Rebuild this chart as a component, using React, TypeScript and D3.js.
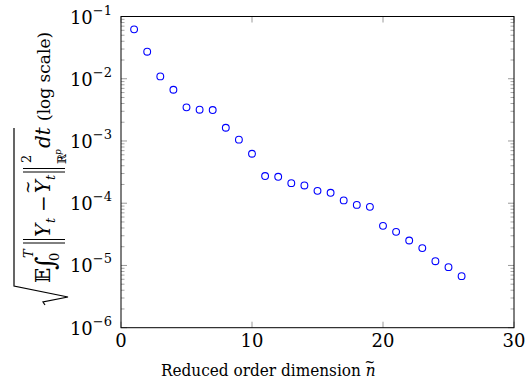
import React from 'react';
import * as d3 from 'd3';

// reduced order dimension n~ and the mean-square error
const dims = [1, 2, 3, 4, 5, 6, 7, 8, 9, 10, 11, 12, 13, 14, 15, 16, 17, 18, 19, 20, 21, 22, 23, 24, 25, 26];
const errors = [
  0.0622, 0.0272, 0.0109, 0.00665, 0.00347, 0.00318, 0.00314, 0.00163, 0.00105, 0.000623,
  0.000273, 0.000266, 0.00021, 0.000193, 0.000158, 0.000147, 0.000111, 9.4e-5, 8.75e-5,
  4.33e-5, 3.47e-5, 2.52e-5, 1.9e-5, 1.17e-5, 9.4e-6, 6.73e-6,
];
const xTicks = [0, 10, 20, 30];
const yExponents = [-6, -5, -4, -3, -2, -1];

const W = 528;
const H = 383;
const FONT = '"DejaVu Serif", serif';
const FONT_COND = '"DejaVu Serif Condensed", "DejaVu Serif", serif';

function App() {
  const x = d3.scaleLinear().domain([0, 30]).range([121, 514]);
  const y = d3.scaleLog().domain([1e-6, 1e-1]).range([327.7, 16.5]);
  const [x0, x1] = x.range();
  const [y0, y1] = y.range();

  // minor ticks 2..9 within each decade
  const minor: number[] = [];
  yExponents.slice(0, -1).forEach(e => {
    for (let k = 2; k <= 9; k++) minor.push(k * Math.pow(10, e));
  });

  const tickCol = '#808080';

  return (
    <svg width={W} height={H} style={{ position: 'absolute', left: 0, top: 0, background: '#fff' }}>
      <g fontFamily={FONT}>
        {/* x ticks */}
        {xTicks.map(t => (
          <g key={'xt' + t}>
            <line x1={x(t)} x2={x(t)} y1={y0} y2={y0 - 6} stroke={tickCol} strokeWidth={0.8} />
            <line x1={x(t)} x2={x(t)} y1={y1} y2={y1 + 6} stroke={tickCol} strokeWidth={0.8} />
            <text x={x(t)} y={347} textAnchor="middle" fontSize={18}>{t}</text>
          </g>
        ))}
        {/* y ticks */}
        {minor.map((v, i) => (
          <g key={'ym' + i}>
            <line x1={x0} x2={x0 + 3.5} y1={y(v)} y2={y(v)} stroke={tickCol} strokeWidth={0.7} />
            <line x1={x1} x2={x1 - 3.5} y1={y(v)} y2={y(v)} stroke={tickCol} strokeWidth={0.7} />
          </g>
        ))}
        {yExponents.map(e => {
          const yy = y(Math.pow(10, e));
          return (
            <g key={'yt' + e}>
              <line x1={x0} x2={x0 + 6} y1={yy} y2={yy} stroke={tickCol} strokeWidth={0.8} />
              <line x1={x1} x2={x1 - 6} y1={yy} y2={yy} stroke={tickCol} strokeWidth={0.8} />
              <text x={112} y={yy + 7} textAnchor="end" fontSize={18}>
                10<tspan fontSize={13} dy={-9}>{'\u2212' + Math.abs(e)}</tspan>
              </text>
            </g>
          );
        })}
        {/* frame */}
        <rect x={x0} y={y1} width={x1 - x0} height={y0 - y1} fill="none" stroke="#000" strokeWidth={1} />
        {/* markers */}
        {dims.map((d, i) => (
          <circle key={d} cx={x(d)} cy={y(errors[i])} r={3.4} fill="none" stroke="#0000ff" strokeWidth={1.1} />
        ))}
        {/* x label */}
        <text x={161} y={376} fontSize={17} fontFamily={FONT_COND}>
          Reduced order dimension <tspan fontStyle="italic">n</tspan>
          <tspan dx={-11} dy={-9} fontSize={14}>~</tspan>
        </text>
        {/* y label, rotated: local (lx, ly) -> screen (ly, -lx) */}
        <g transform="rotate(-90)" fontSize={20}>
          <text x={-283} y={50}>{'\u{1D53C}'}</text>
          <text x={-270} y={54} fontSize={26} fontStyle="italic">{'\u222B'}</text>
          <text x={-258} y={33} fontSize={13} fontStyle="italic">T</text>
          <text x={-261} y={59} fontSize={13}>0</text>
          <line x1={-243} x2={-243} y1={23} y2={65} stroke="#000" strokeWidth={1} />
          <line x1={-239.5} x2={-239.5} y1={23} y2={65} stroke="#000" strokeWidth={1} />
          <text x={-237} y={50} fontStyle="italic">Y</text>
          <text x={-223} y={55} fontSize={13} fontStyle="italic">t</text>
          <text x={-212} y={50}>{'\u2212'}</text>
          <text x={-194} y={50} fontStyle="italic">
            Y<tspan dx={-14} dy={-17} fontSize={16} fontStyle="normal">~</tspan>
          </text>
          <text x={-180} y={55} fontSize={13} fontStyle="italic">t</text>
          <line x1={-172} x2={-172} y1={23} y2={65} stroke="#000" strokeWidth={1} />
          <line x1={-168.5} x2={-168.5} y1={23} y2={65} stroke="#000" strokeWidth={1} />
          <text x={-163} y={31} fontSize={13}>2</text>
          <text x={-164} y={66} fontSize={12}>{'\u211D'}</text>
          <text x={-155} y={61} fontSize={9} fontStyle="italic">p</text>
          <text x={-148} y={50} fontStyle="italic">dt</text>
          <text x={-121} y={50} fontSize={17}>(log scale)</text>
        </g>
        {/* radical sign */}
        <path d="M14,128 L14,286 L68,297 L43,302 L45,305" fill="none" stroke="#000" strokeWidth={1.2} />
      </g>
    </svg>
  );
}

export default App;
